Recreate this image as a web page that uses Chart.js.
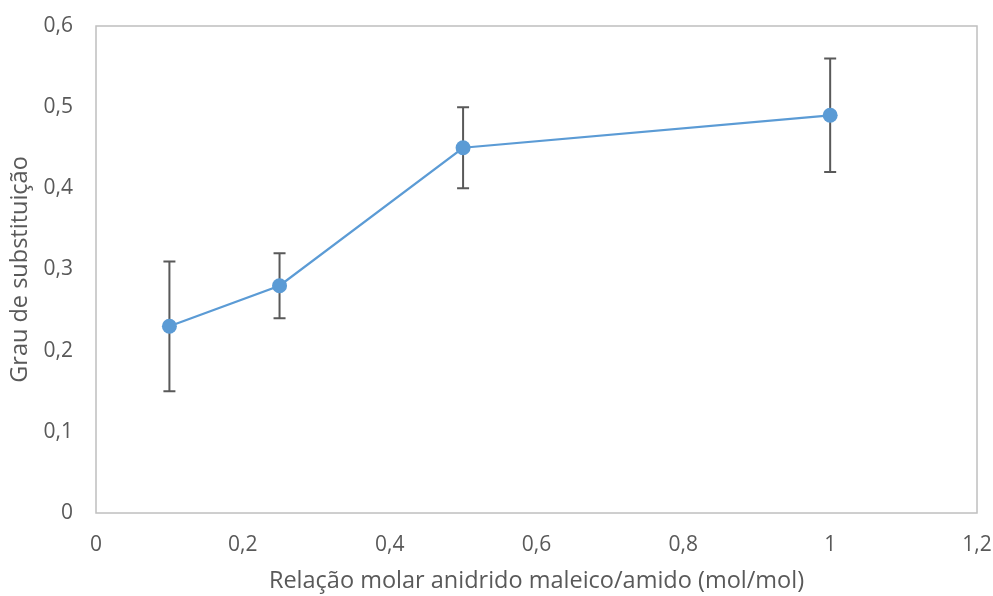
<!DOCTYPE html>
<html>
<head>
<meta charset="utf-8">
<script src="https://cdn.jsdelivr.net/npm/chart.js@4/dist/chart.umd.min.js"></script>
<style>
  html, body { margin: 0; padding: 0; background: #ffffff; }
  #wrap { width: 993px; height: 596px; }
</style>
</head>
<body>
<div id="wrap"><canvas id="c" width="993" height="596"></canvas></div>
<script>
// Molar ratio maleic anhydride / starch (mol/mol)
const ratios = [0.1, 0.25, 0.5, 1];
// Degree of substitution (mean)
const degree = [0.23, 0.28, 0.45, 0.49];
// Error bar half-width (±)
const errors = [0.08, 0.04, 0.05, 0.07];

const xTitle = 'Relação molar anidrido maleico/amido (mol/mol)';
const yTitle = 'Grau de substituição';

const textColor = '#595959';
const fontFamily = '"Open Sans", sans-serif';

const fmt = v => String(Number(v.toFixed(2))).replace('.', ',');

// Light grey frame around the plotting area
const frame = {
  id: 'frame',
  beforeDatasetsDraw(chart) {
    const { ctx, chartArea: a } = chart;
    ctx.save();
    ctx.strokeStyle = '#bfbfbf';
    ctx.lineWidth = 1.5;
    ctx.strokeRect(a.left, a.top, a.right - a.left, a.bottom - a.top);
    ctx.restore();
  }
};

// Vertical error bars with caps, drawn behind the markers
const errorBars = {
  id: 'errorBars',
  beforeDatasetsDraw(chart) {
    const { ctx, scales: { x, y } } = chart;
    ctx.save();
    ctx.strokeStyle = '#595959';
    ctx.lineWidth = 2;
    ratios.forEach((r, i) => {
      const px = x.getPixelForValue(r);
      const top = y.getPixelForValue(degree[i] + errors[i]);
      const bot = y.getPixelForValue(degree[i] - errors[i]);
      ctx.beginPath();
      ctx.moveTo(px, top); ctx.lineTo(px, bot);
      ctx.moveTo(px - 6, top); ctx.lineTo(px + 6, top);
      ctx.moveTo(px - 6, bot); ctx.lineTo(px + 6, bot);
      ctx.stroke();
    });
    ctx.restore();
  }
};

new Chart(document.getElementById('c'), {
  type: 'scatter',
  data: {
    datasets: [{
      data: ratios.map((r, i) => ({ x: r, y: degree[i] })),
      showLine: true,
      borderColor: '#5b9bd5',
      backgroundColor: '#5b9bd5',
      borderWidth: 2.25,
      pointRadius: 7.5,
      pointHoverRadius: 7.5,
      pointBorderWidth: 0
    }]
  },
  options: {
    responsive: false,
    animation: false,
    events: [],
    layout: { padding: { top: 26, right: 16, left: 0, bottom: 0 } },
    plugins: { legend: { display: false }, tooltip: { enabled: false } },
    scales: {
      x: {
        type: 'linear',
        min: 0, max: 1.2,
        grid: { display: false, drawTicks: false },
        border: { display: false },
        ticks: {
          stepSize: 0.2, padding: 19, color: textColor,
          font: { family: fontFamily, size: 21 },
          callback: v => fmt(v)
        },
        title: {
          display: true, text: xTitle, color: textColor,
          font: { family: fontFamily, size: 23.5 },
          padding: { top: 2, bottom: 1 }
        },
        afterFit: s => { s.height = 83; s.paddingLeft = 0; s.paddingRight = 0; }
      },
      y: {
        type: 'linear',
        min: 0, max: 0.6,
        grid: { display: false, drawTicks: false },
        border: { display: false },
        ticks: {
          stepSize: 0.1, padding: 23, color: textColor,
          font: { family: fontFamily, size: 21 },
          callback: v => fmt(v)
        },
        title: {
          display: true, text: yTitle, color: textColor,
          font: { family: fontFamily, size: 23.5 },
          padding: { top: 6, bottom: 0 }
        },
        afterFit: s => { s.width = 96; s.paddingTop = 0; s.paddingBottom = 0; }
      }
    }
  },
  plugins: [frame, errorBars]
});
</script>
</body>
</html>
